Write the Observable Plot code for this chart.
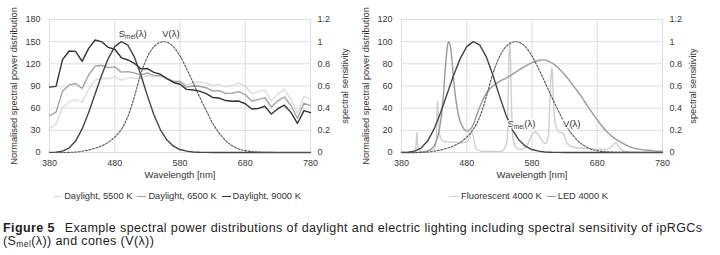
<!DOCTYPE html>
<html><head><meta charset="utf-8">
<script src="https://cdn.jsdelivr.net/npm/d3@7"></script>
<script src="https://cdn.jsdelivr.net/npm/@observablehq/plot@0.6"></script>
<style>
html,body{margin:0;padding:0;background:#fff;}
body{width:720px;height:255px;overflow:hidden;font-family:"Liberation Sans",Arial,sans-serif;color:#333;}
#row{display:flex;width:720px;}
.panel{width:360px;position:relative;height:207px;}
.panel svg{display:block;}
.legend{position:absolute;top:185px;height:22px;display:flex;justify-content:center;align-items:center;font-size:9.3px;color:#333;white-space:nowrap;}
.item{display:inline-flex;align-items:center;margin:0 5px 0 0;}
.sw{display:inline-block;width:9px;height:0;border-top-style:solid;border-top-width:1.5px;margin-right:2px;}
#caption{margin:14.5px 0 0 3px;font-size:12.5px;line-height:13px;letter-spacing:0.4px;color:#222;white-space:nowrap;}
#caption b{margin-right:6px;}
#caption sub{font-size:8.5px;vertical-align:-2px;line-height:0;}
</style>
</head><body>
<div id="row"><div class="panel" id="p1"></div><div class="panel" id="p2"></div></div>
<div id="caption"><b>Figure 5</b> Example spectral power distributions of daylight and electric lighting including spectral sensitivity of ipRGCs<br>(S<sub>mel</sub>(λ)) and cones (V(λ))</div>
<script>
// ---- data ----
const wl = [380,390,400,410,420,430,440,450,460,470,480,490,500,510,520,530,540,550,560,570,580,590,600,610,620,630,640,650,660,670,680,690,700,710,720,730,740,750,760,770,780];
const daylight5500 = [32.6,38.1,61.0,68.8,71.6,67.9,85.6,98.0,100.5,99.9,102.7,98.1,100.7,100.7,100.0,104.2,102.1,103.0,100.0,97.2,97.7,91.4,94.4,95.1,94.2,90.5,92.0,88.9,90.3,93.9,90.0,79.7,82.8,84.8,70.2,79.3,85.0,71.9,52.8,75.9,71.8];
const daylight6500 = [50.0,54.6,82.8,91.5,93.4,86.7,104.9,117.0,117.8,114.9,115.9,108.8,109.4,107.8,104.8,107.7,104.4,104.0,100.0,96.3,95.8,88.7,90.0,89.6,87.7,83.3,83.7,80.0,80.2,82.3,78.3,69.7,71.6,74.3,61.6,69.9,75.1,63.6,46.4,66.8,63.4];
const daylight9000 = [88.5,89.5,125.7,137.4,136.9,123.3,141.0,152.3,149.8,142.2,139.7,128.5,125.2,120.7,113.2,113.6,108.5,105.9,100.0,94.8,92.4,85.5,84.6,83.0,79.7,74.5,73.7,70.3,69.4,69.6,66.0,58.8,59.6,62.6,52.0,59.3,64.0,54.3,39.3,56.6,53.9];
const sMel = [0.0009,0.0034,0.0126,0.040,0.103,0.213,0.360,0.530,0.700,0.847,0.955,1.000,0.969,0.863,0.699,0.513,0.341,0.205,0.112,0.057,0.027,0.012,0.005,0.002,0.001,0,0,0,0,0,0,0,0,0,0,0,0,0,0,0,0];
const vLambda = [0.00004,0.00012,0.0004,0.0012,0.004,0.0116,0.023,0.038,0.060,0.091,0.139,0.208,0.323,0.503,0.710,0.862,0.954,0.995,0.995,0.952,0.870,0.757,0.631,0.503,0.381,0.265,0.175,0.107,0.061,0.032,0.017,0.0082,0.0041,0.0021,0.001,0.0005,0.00025,0.00012,0.00006,0.00003,0.000015];
const fluorWl = [380,398,401,403.5,406,410,420,430,433,435,437,440,445,455,465,475,482,487,490,494,500,520,535,541,543,545,546,547,549,551,556,565,572,577,581,585,589,594,600,604,607,609,610.5,612,614,617,620,625,629,633,638,645,655,665,680,695,702,706,709,712,716,722,735,780];
const fluor4000 = [0,0,2,18,3,1,1.5,3,12,47,30,13,10,9.5,9,9,11,18,15,4,1.5,1,1.5,8,40,90,100,85,35,12,4,3,6,12,17,18.5,17,12,8,12,40,68,77,60,35,23,19,18,16,9,6,4.5,4,3.5,3,3,5,8,8.5,6,3,1,0.5,0.3];
const ledWl = [380,400,410,420,425,430,435,440,444,447,450,452,454,457,460,464,468,472,476,480,484,488,492,496,500,506,512,520,530,540,550,560,570,580,590,596,605,614,624,634,645,655,665,675,685,696,706,716,726,736,746,757,767,780];
const led4000 = [0,0,0.3,1.5,3,6,13,28,50,75,94,100,98,85,65,45,32,25,21,19.5,20,23,28,35,41,49,55,60,64,67,70.5,74.5,78,81,83,83.6,82.5,79.5,74,67.5,59,51,42,33.5,25.5,18,13,9.4,6.3,4,2.8,2,1.5,1.2];
const xTicks = [380,480,580,680,780];
const spdTicks1 = [0,30,60,90,120,150,180];
const spdTicks2 = [0,20,40,60,80,100,120];
const sensTicks = [0,0.2,0.4,0.6,0.8,1,1.2];
const labels1 = [{x:486, y:160.6, t:"Smel(λ)"},{x:552.7, y:160.6, t:"V(λ)"}];
const labels2 = [{x:542.4, y:25.9, t:"Smel(λ)"},{x:627.7, y:25.9, t:"V(λ)"}];

// ---- build ----
const grid = "#dcdcdc";
const fmt = d => String(+d.toFixed(2));
const base = wl.map((w,i)=>({w, d55:daylight5500[i], d65:daylight6500[i], d90:daylight9000[i], mel:sMel[i], v:vLambda[i]}));
const fluor = fluorWl.map((w,i)=>({w, y:fluor4000[i]}));
const led = ledWl.map((w,i)=>({w, y:led4000[i]}));

function panel(opts){
  const {k, spdTicks, ml, mr, series, labels, halo} = opts;
  return Plot.plot({
    width:360, height:185, marginLeft:ml, marginRight:mr, marginTop:19, marginBottom:33,
    style:{fontFamily:"Liberation Sans, Arial, sans-serif", fontSize:"9px", color:"#3a3a3a", background:"#fff", overflow:"visible"},
    x:{domain:[380,780]},
    y:{domain:[0, spdTicks[spdTicks.length-1]]},
    marks:[
      Plot.gridX(xTicks,{stroke:grid, strokeOpacity:1}),
      Plot.gridY(spdTicks,{stroke:grid, strokeOpacity:1}),
      Plot.axisX(xTicks,{tickSize:0, tickPadding:7, label:null}),
      Plot.axisY(spdTicks,{tickSize:0, tickPadding:9, label:null}),
      Plot.axisY(sensTicks.map(v=>v*k),{anchor:"right", tickSize:0, tickPadding:7, tickFormat:d=>fmt(d/k), label:null}),
      ...series,
      Plot.line(base,{x:"w", y:d=>d.mel*k, stroke:"#454545", strokeWidth:1.4}),
      Plot.line(base,{x:"w", y:d=>d.v*k, stroke:"#555", strokeWidth:1.1, strokeDasharray:"2,1.6", curve:"catmull-rom"}),
      Plot.text(labels,{x:"x", y:"y", text:"t", textAnchor:"start", fontSize:9.5, fill:"#333", ...(halo?{stroke:"white", strokeWidth:3}:{})}),
      Plot.text(["Wavelength [nm]"],{frameAnchor:"bottom", text:d=>d, dy:25, fontSize:9.5, fill:"#333", textAnchor:"middle"}),
      Plot.text(["Normalised spectral power distribution"],{frameAnchor:"left", text:d=>d, rotate:-90, dx:-35, fontSize:9.3, fill:"#333", textAnchor:"middle", lineAnchor:"middle"}),
      Plot.text(["spectral sensitivity"],{frameAnchor:"right", text:d=>d, rotate:-90, dx:opts.rdx, fontSize:9.3, fill:"#333", textAnchor:"middle", lineAnchor:"middle"})
    ]
  });
}

const p1 = panel({k:150, spdTicks:spdTicks1, ml:49, mr:50, rdx:35, labels:labels1, halo:false, series:[
  Plot.line(base,{x:"w", y:"d55", stroke:"#dcdcdc", strokeWidth:1.4}),
  Plot.line(base,{x:"w", y:"d65", stroke:"#a3a3a3", strokeWidth:1.4}),
  Plot.line(base,{x:"w", y:"d90", stroke:"#333", strokeWidth:1.4})
]});
const p2 = panel({k:100, spdTicks:spdTicks2, ml:41, mr:58, rdx:31, labels:labels2, halo:true, series:[
  Plot.line(fluor,{x:"w", y:"y", stroke:"#cfcfcf", strokeWidth:1.4, curve:"catmull-rom"}),
  Plot.line(led,{x:"w", y:"y", stroke:"#9a9a9a", strokeWidth:1.4, curve:"catmull-rom"})
]});

// subscript "mel" in the in-chart labels
for (const svg of [p1,p2]) {
  d3.select(svg).selectAll("text").each(function(){
    if (this.textContent === "Smel(λ)") {
      const t = d3.select(this); t.text("");
      t.append("tspan").text("S");
      t.append("tspan").attr("font-size","6.5px").attr("dy","2").text("mel");
      t.append("tspan").attr("dy","-2").text("(λ)");
    }
  });
}

document.getElementById("p1").append(p1);
document.getElementById("p2").append(p2);

function legend(host, left, width, items){
  const div = document.createElement("div");
  div.className = "legend"; div.style.left = left+"px"; div.style.width = width+"px";
  for (const [label,color] of items){
    const it = document.createElement("span"); it.className="item";
    const sw = document.createElement("span"); sw.className="sw"; sw.style.borderTopColor=color;
    it.append(sw, document.createTextNode(label));
    div.append(it);
  }
  document.getElementById(host).append(div);
}
legend("p1", 49, 261, [["Daylight, 5500 K","#dcdcdc"],["Daylight, 6500 K","#a3a3a3"],["Daylight, 9000 K","#333"]]);
legend("p2", 41, 261, [["Fluorescent 4000 K","#cfcfcf"],["LED 4000 K","#9a9a9a"]]);
</script>
</body></html>
